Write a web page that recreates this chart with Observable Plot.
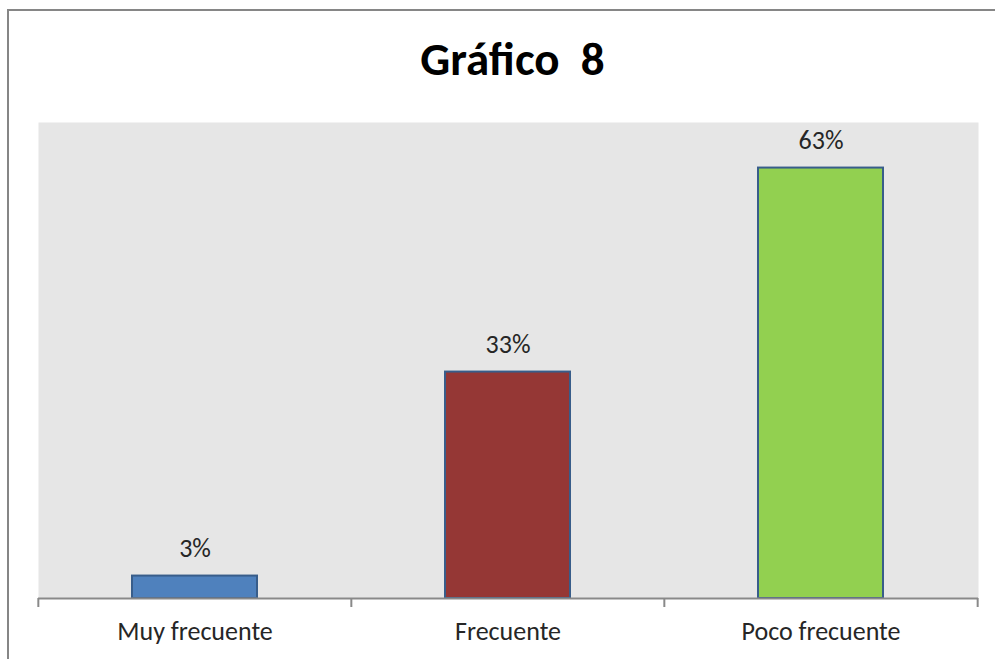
<!DOCTYPE html>
<html>
<head>
<meta charset="utf-8">
<script src="https://cdn.jsdelivr.net/npm/d3@7"></script>
<script src="https://cdn.jsdelivr.net/npm/@observablehq/plot@0.6"></script>
<style>
  html, body { margin: 0; padding: 0; background: #fff; }
  #wrap { position: relative; width: 995px; height: 659px; overflow: hidden; font-family: Carlito, Lato, "Open Sans", sans-serif; }
  #frame { position: absolute; left: 7px; top: 9px; width: 1100px; height: 800px; border-left: 2px solid #868686; border-top: 2px solid #868686; box-sizing: border-box; }
  #title { position: absolute; left: 0; top: 0; width: 995px; height: 100px; text-align: center; font-weight: bold; font-size: 47px; line-height: 1; color: #000; }
  #title span { position: absolute; left: 0; right: 0; top: 36px; padding-left: 30px; }
  #chart { position: absolute; left: 0; top: 100px; }
</style>
</head>
<body>
<div id="wrap">
  <div id="frame"></div>
  <div id="title"><span>Gráfico&nbsp;&nbsp;8</span></div>
  <div id="chart"></div>
</div>
<script>
const categories = ["Muy frecuente", "Frecuente", "Poco frecuente"];
const values = [3.3, 33.3, 63.3];
const labels = ["3%", "33%", "63%"];
const colors = ["#4f81bd", "#953735", "#92d050"];

const data = categories.map((c, i) => ({cat: c, value: values[i], label: labels[i]}));

const width = 995, marginLeft = 38, marginRight = 17;
const paddingInner = 0.6, paddingOuter = 0.3;
const step = (width - marginLeft - marginRight) / categories.length;

const plot = Plot.plot({
  width,
  height: 559,
  marginLeft,
  marginRight,
  marginTop: 22,
  marginBottom: 61,
  style: {fontFamily: "Carlito, Lato, 'Open Sans', sans-serif", background: "transparent"},
  x: {domain: categories, paddingInner, paddingOuter, label: null},
  y: {domain: [0, 70], axis: null},
  color: {domain: categories, range: colors},
  marks: [
    Plot.frame({fill: "#e6e6e6", stroke: "none"}),
    Plot.barY(data, {x: "cat", y: "value", fill: "cat", stroke: "#385d8a", strokeWidth: 2}),
    Plot.text(data, {x: "cat", y: "value", text: "label", dy: -27, fontSize: 26, fill: "#262626"}),
    Plot.ruleY([0], {stroke: "#898989", strokeWidth: 2}),
    // category boundary ticks (half a step left of each band centre)
    Plot.ruleX(categories, {x: d => d, y1: 0, y2: 0, dx: -step / 2, insetBottom: -9, stroke: "#898989", strokeWidth: 2}),
    // right edge of the last category step
    Plot.ruleX(categories.slice(-1), {x: d => d, y1: 0, y2: 0, dx: step / 2, insetBottom: -9, stroke: "#898989", strokeWidth: 2}),
    Plot.axisX({tickSize: 0, tickPadding: 23, fontSize: 26, fill: "#262626", label: null})
  ]
});
document.getElementById("chart").appendChild(plot);
</script>
</body>
</html>
